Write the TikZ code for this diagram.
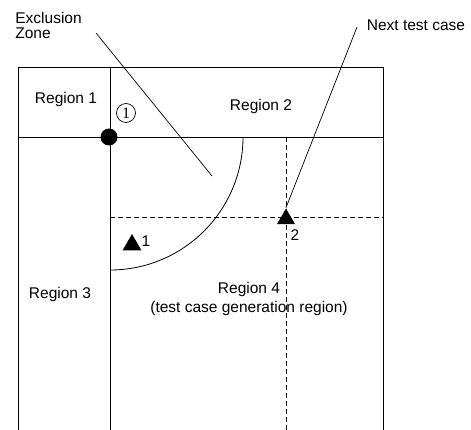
\documentclass[tikz,border=0pt]{standalone}
\usepackage{fontspec}
\setmainfont{Liberation Sans}
\newfontfamily\serifnum{Liberation Serif}
\usetikzlibrary{shapes.geometric}
\begin{document}
\begin{tikzpicture}[x=1pt,y=-1pt,
  line width=0.8pt,
  lbl/.style={inner sep=0pt,font=\fontsize{15.5}{17}\selectfont},
  grid/.style={line width=0.8pt,dash pattern=on 5pt off 3pt},
  tri/.style={regular polygon,regular polygon sides=3,fill=black,inner sep=0pt,minimum size=22pt},
  thin/.style={line width=0.7pt}]
\useasboundingbox (0,0) rectangle (471,430);
% frame
\coordinate (bl) at (18,430);
\coordinate (tl) at (18,67);
\coordinate (tr) at (383,67);
\coordinate (br) at (383,430);
\coordinate (ml) at (18,137);
\coordinate (mr) at (383,137);
\coordinate (vt) at (110,67);
\coordinate (vb) at (110,430);
\draw (bl) -- (tl) -- (tr) -- (br);
\draw (ml) -- (mr);
\draw (vt) -- (vb);
% exclusion arc
\coordinate (as) at (243,137);
\draw (as) arc[start angle=0,end angle=90,radius=133];
% dashed grid
\coordinate (hs) at (110,217);
\coordinate (he) at (383,217);
\coordinate (vs) at (286,137);
\coordinate (ve) at (286,430);
\draw[grid] (hs) -- (he);
\draw[grid] (vs) -- (ve);
% dot and circled one
\node[circle,fill=black,inner sep=0pt,minimum size=17pt] (dot) at (109,137) {};
\node[circle,draw,thin,inner sep=0pt,minimum size=19pt,font=\serifnum\fontsize{16}{17}\selectfont] (c1) at (126,113) {1};
% triangles
\node[tri,minimum size=22pt] (t1) at (132,245) {};
\node[tri,minimum size=21pt] (t2) at (286,219) {};
\node[lbl] (n1) at (146,241) {1};
\node[lbl] (n2) at (295,235) {2};
% labels
\node[lbl,anchor=west] (ex) at (15,18) {Exclusion};
\node[lbl,anchor=west] (zo) at (15,33) {Zone};
\node[lbl] (nt) at (416,25) {Next test case};
\node[lbl] (r1) at (66,99) {Region 1};
\node[lbl] (r2) at (261,106) {Region 2};
\node[lbl] (r3) at (60,294) {Region 3};
\node[lbl] (r4) at (249,289) {Region 4};
\node[lbl] (r4b) at (249,308) {(test case generation region)};
% pointer lines
\coordinate (ezs) at (96,33);
\coordinate (eze) at (212,176);
\draw[thin] (ezs) -- (eze);
\coordinate (nts) at (357,27);
\draw[thin] (nts) -- (t2.corner 1);
\end{tikzpicture}
\end{document}
